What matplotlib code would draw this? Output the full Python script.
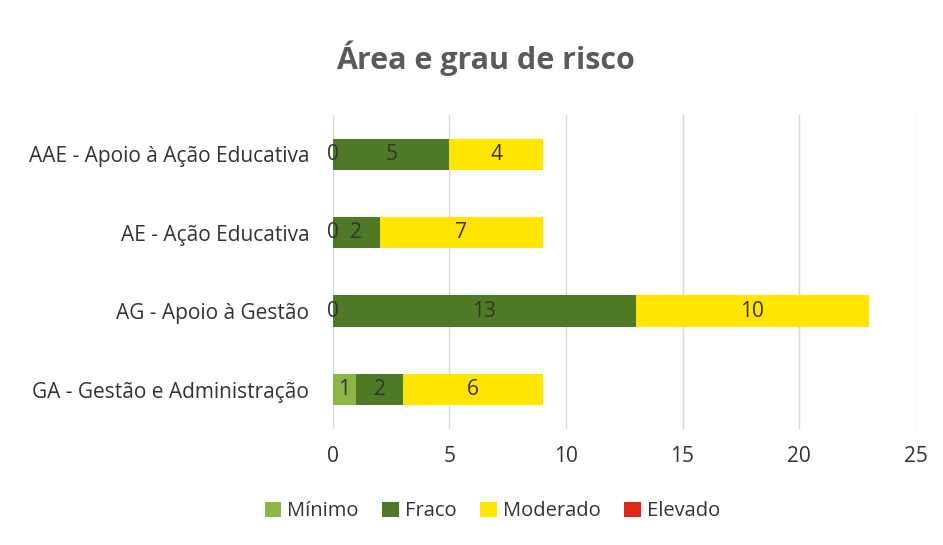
import matplotlib.pyplot as plt
import numpy as np

# dados
areas = ["AAE - Apoio à Ação Educativa", "AE - Ação Educativa",
         "AG - Apoio à Gestão", "GA - Gestão e Administração"]
minimo = [0, 0, 0, 1]
fraco = [5, 2, 13, 2]
moderado = [4, 7, 10, 6]
elevado = [0, 0, 0, 0]

series = [
    ("Mínimo", minimo, "#8db646"),
    ("Fraco", fraco, "#4e7a27"),
    ("Moderado", moderado, "#ffe500"),
    ("Elevado", elevado, "#e3261a"),
]

plt.rcParams["font.family"] = ["Open Sans", "DejaVu Sans"]

fig = plt.figure(figsize=(9.43, 5.45), dpi=100)
ax = fig.add_axes([0.353, 0.213, 0.618, 0.576])

y = np.arange(len(areas))
left = np.zeros(len(areas))
for nome, vals, cor in series:
    bars = ax.barh(y, vals, left=left, height=0.4, color=cor, label=nome, zorder=3)
    if nome != "Elevado":
        txts = ax.bar_label(bars, labels=[str(v) for v in vals], label_type="center",
                            fontsize=15, color="#333333")
        for t in txts:
            t.set_zorder(6)
    left += np.array(vals)

ax.set_yticks(y, areas)
ax.invert_yaxis()
ax.set_ylim(3.5, -0.5)
ax.set_xlim(0, 25)
ax.set_xticks([0, 5, 10, 15, 20, 25])
ax.tick_params(axis="both", length=0, labelsize=15, colors="#333333")
ax.tick_params(axis="y", pad=17)
ax.tick_params(axis="x", pad=12)
ax.grid(axis="x", color="#d9d9d9", linewidth=1, zorder=0)
for s in ax.spines.values():
    s.set_visible(False)

fig.suptitle("Área e grau de risco", x=0.515, y=0.925, fontsize=22, fontweight="bold",
             color="#5a5a5a")

fig.legend(loc="lower center", bbox_to_anchor=(0.522, 0.01), ncol=4, frameon=False,
           fontsize=14.5, handlelength=0.8, handleheight=0.8, columnspacing=1.2,
           handletextpad=0.3, labelcolor="#333333")

fig.savefig("out.png", dpi=100, facecolor="white")
